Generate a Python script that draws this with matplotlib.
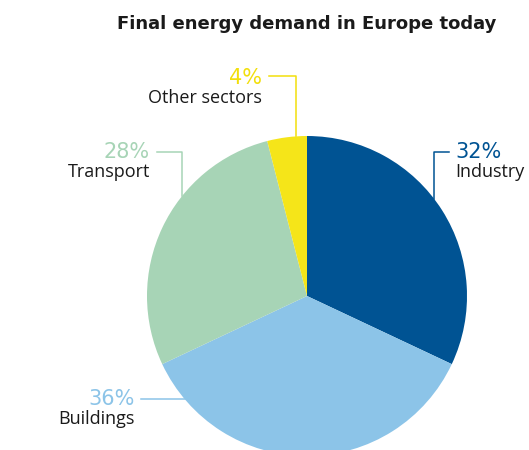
import numpy as np
import matplotlib.pyplot as plt

# Data
sectors = ["Industry", "Buildings", "Transport", "Other sectors"]
shares = [32, 36, 28, 4]
colors = ["#005393", "#8cc4e8", "#a7d4b6", "#f5e519"]

W, H = 529, 450
fig = plt.figure(figsize=(W / 100, H / 100), dpi=100)
ax = fig.add_axes([0, 0, 1, 1])

# pie in pixel coordinates (y measured from the bottom)
cx, cy, r = 307, H - 296, 160
ax.pie(shares, colors=colors, startangle=90, counterclock=False,
       center=(cx, cy), radius=r, wedgeprops=dict(linewidth=0))
ax.set_xlim(0, W)
ax.set_ylim(0, H)
ax.set_aspect("auto")
ax.axis("off")


def edge_y(x, top=True):
    d = np.sqrt(r ** 2 - (x - cx) ** 2)
    return cy + d if top else cy - d


def edge_x(y, left=True):
    d = np.sqrt(r ** 2 - (y - cy) ** 2)
    return cx - d if left else cx + d


pct_font = dict(family="DejaVu Sans", fontsize=15)
lab_font = dict(family="Open Sans", fontsize=13, color="#1a1a1a")

# Industry: line up from the wedge then right
x0, y0 = 434, H - 152
ax.plot([x0, x0, 449], [edge_y(x0), y0, y0], color=colors[0], lw=1.1)
ax.text(455, y0, f"{shares[0]}%", color=colors[0], ha="left", va="center", **pct_font)
ax.text(455, H - 172, sectors[0], ha="left", va="center", **lab_font)

# Buildings: horizontal line to the left
y0 = H - 399
ax.plot([141, edge_x(y0)], [y0, y0], color=colors[1], lw=1.1)
ax.text(135, y0, f"{shares[1]}%", color=colors[1], ha="right", va="center", **pct_font)
ax.text(135, H - 419, sectors[1], ha="right", va="center", **lab_font)

# Transport: line up from the wedge then left
x0, y0 = 182, H - 152
ax.plot([x0, x0, 157], [edge_y(x0), y0, y0], color=colors[2], lw=1.1)
ax.text(150, y0, f"{shares[2]}%", color=colors[2], ha="right", va="center", **pct_font)
ax.text(150, H - 172, sectors[2], ha="right", va="center", **lab_font)

# Other sectors: line up from the wedge then left
x0, y0 = 296, H - 76
ax.plot([x0, x0, 269], [edge_y(x0), y0, y0], color="#f2df0c", lw=1.1)
ax.text(262, y0 - 2, f"{shares[3]}%", color="#f2df0c", ha="right", va="center", **pct_font)
ax.text(262, H - 98, sectors[3], ha="right", va="center", **lab_font)

ax.text(307, H - 24, "Final energy demand in Europe today", ha="center", va="center",
        fontsize=13, fontweight="bold", family="DejaVu Sans", color="#1a1a1a")

fig.savefig("out.png", dpi=100)
